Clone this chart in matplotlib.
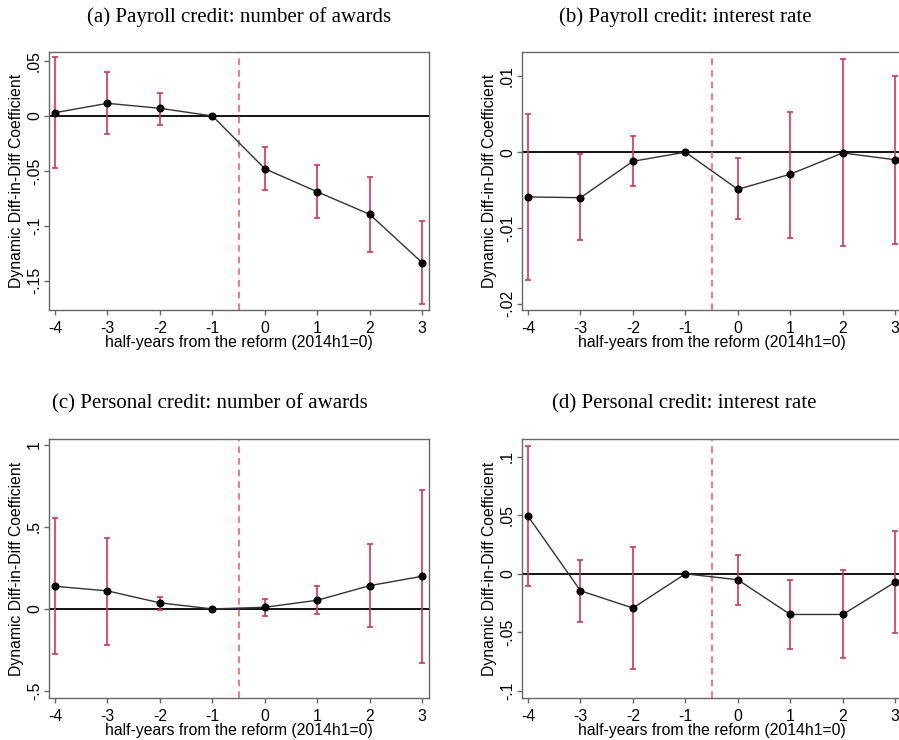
import matplotlib
matplotlib.use("Agg")
import matplotlib.pyplot as plt
from matplotlib.ticker import FuncFormatter

# half-years relative to the reform
periods = [-4, -3, -2, -1, 0, 1, 2, 3]

titles = [
    "(a) Payroll credit: number of awards",
    "(b) Payroll credit: interest rate",
    "(c) Personal credit: number of awards",
    "(d) Personal credit: interest rate",
]

# point estimates and 95% CI bounds
coef_a = [0.003, 0.0115, 0.007, 0.0, -0.048, -0.069, -0.0895, -0.1335]
lo_a = [-0.047, -0.016, -0.008, 0.0, -0.0673, -0.093, -0.1236, -0.171]
hi_a = [0.0533, 0.0396, 0.0213, 0.0, -0.0283, -0.0444, -0.0557, -0.0959]

coef_b = [-0.0059, -0.0060, -0.0012, 0.0, -0.0049, -0.0029, -0.0001, -0.0010]
lo_b = [-0.0168, -0.0116, -0.0045, 0.0, -0.0088, -0.0113, -0.0124, -0.0121]
hi_b = [0.0050, -0.0003, 0.0021, 0.0, -0.0008, 0.0053, 0.0123, 0.0100]

coef_c = [0.138, 0.110, 0.037, 0.0, 0.010, 0.053, 0.142, 0.199]
lo_c = [-0.277, -0.218, -0.004, 0.0, -0.045, -0.031, -0.108, -0.328]
hi_c = [0.556, 0.433, 0.075, 0.0, 0.063, 0.138, 0.393, 0.727]

coef_d = [0.0493, -0.0145, -0.0293, 0.0, -0.0051, -0.0348, -0.0348, -0.0071]
lo_d = [-0.0108, -0.0413, -0.0815, 0.0, -0.0265, -0.0641, -0.0721, -0.0504]
hi_d = [0.1094, 0.012, 0.0228, 0.0, 0.0162, -0.0054, 0.0031, 0.0365]

yticks_a = [-0.15, -0.1, -0.05, 0, 0.05]
yticks_b = [-0.02, -0.01, 0, 0.01]
yticks_c = [-0.5, 0, 0.5, 1]
yticks_d = [-0.1, -0.05, 0, 0.05, 0.1]

ylims = [(-0.1765, 0.0582), (-0.0208, 0.0132), (-0.543, 1.036), (-0.1063, 0.1154)]

panels = [
    (coef_a, lo_a, hi_a, yticks_a),
    (coef_b, lo_b, hi_b, yticks_b),
    (coef_c, lo_c, hi_c, yticks_c),
    (coef_d, lo_d, hi_d, yticks_d),
]

W, H = 899, 740
# axes boxes in pixels: left, top, width, height
boxes = [(49, 52, 380, 258), (522, 52, 380, 258), (49, 439, 380, 259), (522, 439, 380, 259)]
title_pos = [(239, 17), (685, 17), (210, 404), (684, 404)]

plt.rcParams['font.family'] = ['Liberation Sans', 'DejaVu Sans']
plt.rcParams['axes.unicode_minus'] = False


def stata_fmt(v, pos=None):
    if abs(v) < 1e-12:
        return "0"
    return f"{v:g}".replace("0.", ".")


fig = plt.figure(figsize=(W / 100, H / 100), dpi=100)

for i, (coef, lo, hi, yt) in enumerate(panels):
    l, t, w, h = boxes[i]
    ax = fig.add_axes([l / W, 1 - (t + h) / H, w / W, h / H])
    ax.axhline(0, color='black', lw=1.3, zorder=1)
    ax.axvline(-0.5, color='#ff5c5c', lw=1.2, ls=(0, (4, 3)), zorder=1)
    yerr = [[c - a for c, a in zip(coef, lo)], [b - c for c, b in zip(coef, hi)]]
    ax.errorbar(periods, coef, yerr=yerr, fmt='none', ecolor='#d6335e',
                elinewidth=1.2, capsize=2.5, capthick=1.2, zorder=2)
    ax.plot(periods, coef, color='#333333', lw=1.0, marker='o', ms=4.8,
            mfc='black', mec='black', zorder=3)
    ax.set_xlim(-4.115, 3.13)
    ax.set_ylim(*ylims[i])
    ax.set_xticks(periods)
    ax.set_yticks(yt)
    ax.yaxis.set_major_formatter(FuncFormatter(stata_fmt))
    for lab in ax.get_yticklabels():
        lab.set_rotation(90)
        lab.set_va('center')
    for sp in ax.spines.values():
        sp.set_color('#666666')
        sp.set_linewidth(1.0)
    ax.tick_params(direction='out', length=3.5, width=1.0, color='#666666',
                   labelsize=11.3, pad=1.5)
    ax.tick_params(axis='x', pad=4.5)
    ax.set_xlabel("half-years from the reform (2014h1=0)", fontsize=11.3, labelpad=-1)
    ax.set_ylabel("Dynamic Diff-in-Diff Coefficient", fontsize=11.3, labelpad=2)
    tx, ty = title_pos[i]
    fig.text(tx / W, 1 - ty / H, titles[i], ha='center', va='center',
             fontsize=15, family=['Liberation Serif', 'DejaVu Serif'])

fig.savefig('out.png', dpi=100)
